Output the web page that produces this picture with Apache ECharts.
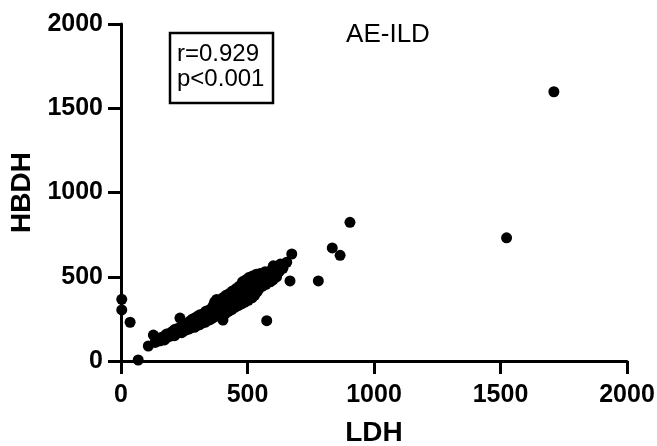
<!DOCTYPE html>
<html>
<head>
<meta charset="utf-8">
<title>AE-ILD</title>
<script src="https://cdn.jsdelivr.net/npm/echarts@6/dist/echarts.min.js"></script>
<style>
    html, body { margin: 0; padding: 0; background: #fff; }
    #chart { width: 657px; height: 446px; }
</style>
</head>
<body>
<div id="chart"></div>
<script>
// LDH / HBDH pairs
var outliers = [
    [3, 366], [3, 303], [36, 230], [68, 6], [108, 89], [128, 154],
    [233, 255], [403, 243], [576, 239], [601, 481], [655, 586], [675, 635],
    [668, 475], [780, 475], [835, 671], [866, 627], [905, 823],
    [1524, 731], [1711, 1598]
];
var band = [
    [135, 110], [140, 125], [145, 118], [150, 130], [155, 120], [158, 140], [162, 128], [165, 135],
    [170, 145], [172, 125], [175, 150], [178, 138], [180, 160], [185, 142], [188, 150],
    [192, 160], [195, 148], [198, 170], [200, 155], [205, 175], [208, 162], [210, 185], [212, 150],
    [215, 170], [218, 190], [220, 165], [225, 180], [228, 195], [230, 172], [235, 185], [238, 200],
    [240, 168], [243, 190], [245, 210], [248, 178], [250, 195],
    [255, 205], [258, 185], [260, 220], [262, 195], [265, 210], [268, 230], [270, 190], [272, 215],
    [275, 240], [278, 200], [280, 225], [283, 250], [285, 210], [288, 235], [290, 200], [292, 255],
    [295, 225], [298, 245], [300, 210], [302, 265], [305, 230], [308, 250], [310, 215], [312, 275],
    [315, 240], [318, 260], [320, 225],
    [325, 280], [328, 245], [330, 265], [332, 230], [335, 295], [338, 255], [340, 275], [342, 240],
    [345, 300], [348, 262], [350, 285], [352, 245], [355, 310], [358, 270], [360, 295], [362, 255],
    [365, 330], [368, 280], [370, 350], [372, 300], [375, 265], [378, 365], [380, 320],
    [385, 285], [388, 340], [390, 300], [392, 270], [395, 355], [398, 315], [400, 290], [402, 375],
    [405, 330], [408, 300], [410, 360], [412, 280], [415, 390], [418, 340], [420, 310], [422, 370],
    [425, 295], [428, 400], [430, 350], [432, 320], [435, 380], [438, 305], [440, 415], [442, 360],
    [445, 335],
    [450, 395], [452, 320], [455, 430], [458, 370], [460, 345], [462, 410], [465, 330], [468, 445],
    [470, 385], [472, 355], [475, 425], [478, 340], [480, 470], [482, 400], [485, 365], [488, 440],
    [490, 350], [492, 480], [495, 415], [498, 380], [500, 455], [503, 360], [505, 495], [508, 430],
    [510, 395],
    [515, 470], [518, 375], [520, 505], [523, 420], [525, 450], [528, 390], [530, 490], [533, 440],
    [535, 515], [538, 410], [540, 470], [543, 500], [546, 430], [550, 520], [553, 460], [556, 490],
    [560, 445], [563, 510], [566, 470], [570, 530], [573, 455], [576, 500], [580, 480],
    [585, 520], [590, 470], [595, 540], [600, 500], [602, 565], [605, 520], [610, 545], [615, 500],
    [620, 560], [625, 530], [630, 575], [640, 550]
];
var xTicks = [0, 500, 1000, 1500, 2000];
var yTicks = [0, 500, 1000, 1500, 2000];
var statLines = ['r=0.929', 'p<0.001'];

(function () {
    var font = '"Liberation Sans", Arial, sans-serif';
    var chart = echarts.init(document.getElementById('chart'));

    function axis(name, ticks, gap, labelMargin) {
        return {
            type: 'value',
            min: ticks[0],
            max: ticks[ticks.length - 1],
            interval: ticks[1] - ticks[0],
            name: name,
            nameLocation: 'middle',
            nameGap: gap,
            nameTextStyle: { color: '#000', fontSize: 28, fontWeight: 'bold', fontFamily: font },
            axisLine: { show: true, lineStyle: { color: '#000', width: 3 } },
            axisTick: { show: true, length: 13, lineStyle: { color: '#000', width: 3 } },
            axisLabel: {
                color: '#000', fontSize: 25, fontWeight: 'bold', fontFamily: font, margin: labelMargin,
                formatter: function (v) { return String(v); }
            },
            splitLine: { show: false }
        };
    }

    chart.setOption({
        animation: false,
        grid: { left: 121, right: 30, top: 24, bottom: 85, outerBoundsMode: 'none' },
        xAxis: axis('LDH', xTicks, 58, 22),
        yAxis: axis('HBDH', yTicks, 84, 18),
        graphic: [
            {
                type: 'rect',
                shape: { x: 170, y: 33, width: 103, height: 70 },
                style: { fill: '#fff', stroke: '#000', lineWidth: 2.5 }
            },
            {
                type: 'text', left: 177, top: 42,
                style: { text: statLines.join('\n'), fill: '#000', font: '24px ' + font, lineHeight: 25 }
            },
            {
                type: 'text', x: 388, y: 35,
                style: { text: 'AE-ILD', fill: '#000', font: '26px ' + font, align: 'center', verticalAlign: 'middle' }
            }
        ],
        series: [{
            type: 'scatter',
            symbolSize: 11,
            itemStyle: { color: '#000', opacity: 1 },
            data: band.concat(outliers)
        }]
    });
})();
</script>
</body>
</html>
